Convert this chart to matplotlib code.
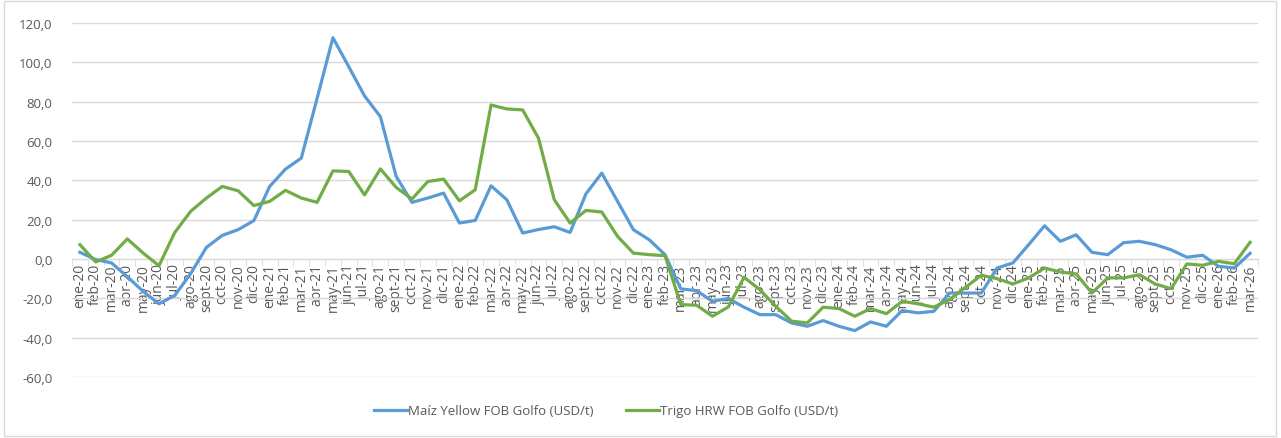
import matplotlib
matplotlib.use("Agg")
import matplotlib.pyplot as plt
from matplotlib.ticker import FuncFormatter, FixedLocator
from matplotlib.patches import Rectangle

months = ["ene", "feb", "mar", "abr", "may", "jun", "jul", "ago", "sept", "oct", "nov", "dic"]
labels = [f"{m}-{y}" for y in range(20, 27) for m in months][:75]

maiz = [3.4, -0.3, -2.0, -9.0, -16.5, -22.8, -18.5, -7.5, 5.9, 12.0, 14.9, 19.5,
        36.9, 45.7, 51.3, 81.7, 112.5, 97.8, 82.9, 72.4, 42.0, 28.8, 31.0, 33.5,
        18.3, 19.6, 37.2, 30.1, 13.2, 15.0, 16.4, 13.5, 33.1, 43.7, 29.3, 14.9,
        9.8, 2.2, -15.2, -16.1, -21.5, -20.1, -24.5, -28.3, -28.3, -32.5, -34.2, -31.3,
        -34.2, -36.4, -32.0, -34.2, -26.2, -27.4, -26.6, -17.3, -17.3, -17.3, -4.6, -2.0,
        7.3, 16.9, 9.0, 12.3, 3.4, 2.2, 8.3, 9.0, 7.3, 4.7, 0.9, 1.9,
        -3.7, -4.6, 2.9]

trigo = [7.3, -1.5, 1.9, 10.2, 3.0, -3.4, 13.5, 24.2, 31.0, 36.9, 34.7, 27.2,
         29.3, 34.9, 31.0, 28.8, 44.8, 44.5, 32.6, 45.8, 36.4, 30.5, 39.4, 40.6,
         29.6, 35.2, 78.3, 76.3, 75.8, 61.4, 30.1, 18.3, 24.7, 23.9, 11.5, 3.0,
         2.2, 1.7, -23.2, -23.5, -29.1, -24.4, -9.3, -15.6, -24.0, -31.6, -32.5, -24.5,
         -25.2, -29.1, -25.2, -27.8, -21.5, -22.8, -24.5, -20.6, -14.4, -8.3, -10.0, -12.7,
         -9.6, -4.6, -6.6, -7.6, -17.3, -9.6, -9.6, -8.0, -12.7, -15.1, -2.5, -3.2,
         -1.2, -2.4, 8.5]

series_names = ["Maíz Yellow FOB Golfo (USD/t)", "Trigo HRW FOB Golfo (USD/t)"]
colors = ["#5B9BD5", "#70AD47"]
text_color = "#595959"
grid_color = "#D9D9D9"

plt.rcParams['font.family'] = ['Open Sans', 'DejaVu Sans']

fig = plt.figure(figsize=(12.81, 4.39), dpi=100)
ax = fig.add_axes([72/1281, (439-378)/439, (1258-72)/1281, (378-24)/439])

x = list(range(len(labels)))
ax.plot(x, maiz, color=colors[0], lw=2.3, label=series_names[0], solid_joinstyle='round', zorder=3)
ax.plot(x, trigo, color=colors[1], lw=2.3, label=series_names[1], solid_joinstyle='round', zorder=3)

ax.set_xlim(-0.5, len(labels) - 0.5)
ax.set_ylim(-60, 120)
ax.set_yticks(range(-60, 121, 20))
ax.yaxis.set_major_formatter(FuncFormatter(lambda v, p: f"{v:.1f}".replace('.', ',')))
ax.yaxis.grid(True, color=grid_color, lw=1)
ax.set_axisbelow(True)

for s in ["top", "right", "left"]:
    ax.spines[s].set_visible(False)
ax.spines["bottom"].set_position(("data", 0))
ax.spines["bottom"].set_color(grid_color)
ax.spines["bottom"].set_zorder(2)

ax.set_xticks(x)
ax.set_xticklabels(labels, rotation=90, fontsize=10, color=text_color)
ax.xaxis.set_minor_locator(FixedLocator([i - 0.5 for i in range(len(labels) + 1)]))
ax.tick_params(axis="x", which="major", length=0, pad=3)
ax.tick_params(axis="x", which="minor", length=5, color=grid_color)
ax.tick_params(axis="y", length=0, labelsize=9.5, labelcolor=text_color, pad=14)

leg = fig.legend(loc="center", bbox_to_anchor=(606/1281, (439-412)/439), ncol=2, frameon=False,
                 fontsize=9.5, handlelength=2.5, handletextpad=0.1, columnspacing=2.4)
for t in leg.get_texts():
    t.set_color(text_color)

fig.patches.append(Rectangle((4/1281, 2/439), 1272/1281, 435/439, transform=fig.transFigure,
                             fill=False, edgecolor=grid_color, lw=1))

fig.savefig("out.png", dpi=100)
